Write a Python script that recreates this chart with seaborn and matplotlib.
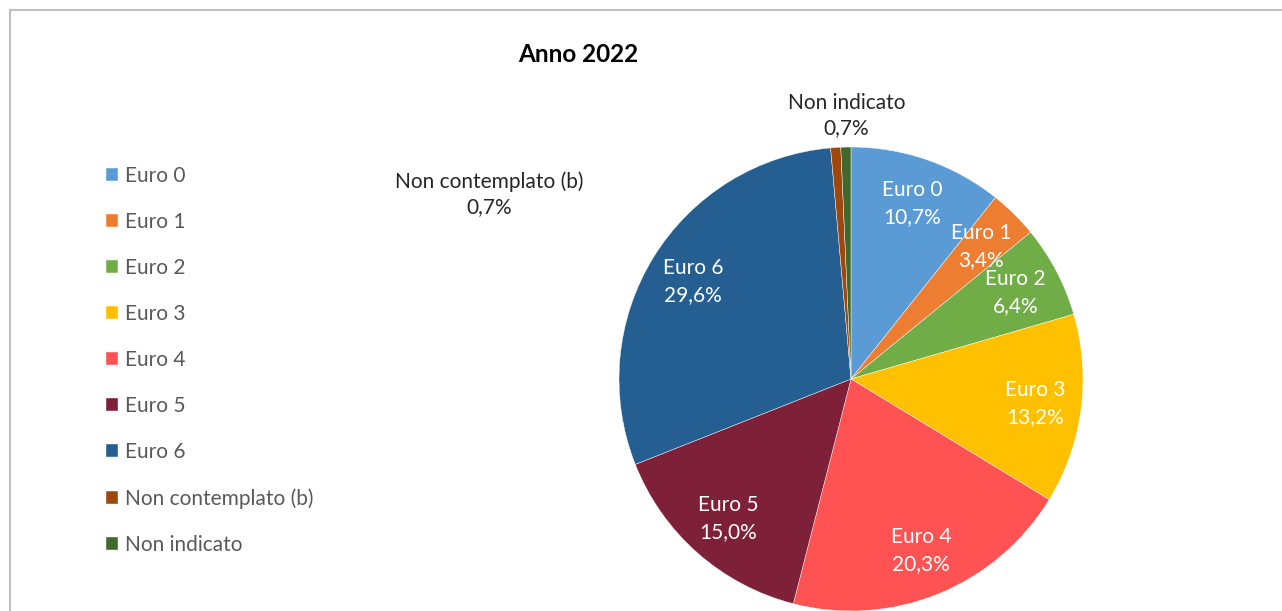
import matplotlib
matplotlib.use("Agg")
import matplotlib.pyplot as plt
import numpy as np
import seaborn as sns
from matplotlib.patches import Rectangle

# DATI
categorie = ["Euro 0", "Euro 1", "Euro 2", "Euro 3", "Euro 4", "Euro 5",
             "Euro 6", "Non contemplato (b)", "Non indicato"]
quote = [10.7, 3.4, 6.4, 13.2, 20.3, 15.0, 29.6, 0.7, 0.7]
colori = ["#5B9BD5", "#ED7D31", "#70AD47", "#FFC000", "#FF5252",
          "#7F2039", "#255E91", "#9E480E", "#43682B"]
titolo = "Anno 2022"

sns.set_theme(style="white")
plt.rcParams['font.family'] = ['Lato', 'DejaVu Sans']

fig = plt.figure(figsize=(12.82, 6.11), dpi=100)
fig.set_facecolor('white')

# cornice del grafico (tagliata come nell'originale)
fig.add_artist(Rectangle((10 / 1282, -0.05), 1.2, (611 - 10) / 611 + 0.05,
                         transform=fig.transFigure, fill=False,
                         edgecolor="#BFBFBF", linewidth=1.5))

ax = fig.add_axes([0.6638 - 0.181, 0.0, 0.362, 0.7594])
palette = sns.color_palette(colori)
wedges, _ = ax.pie(quote, colors=palette, startangle=90, counterclock=False,
                   radius=1.0, wedgeprops=dict(edgecolor="white", linewidth=0.3))
ax.set_xlim(-1, 1)
ax.set_ylim(-1, 1)
ax.set_aspect('equal')
ax.axis('off')

def fmt(v):
    return f"{v:.1f}".replace(".", ",") + "%"

# etichette interne
for w, cat, v in zip(wedges[:7], categorie[:7], quote[:7]):
    ang = np.deg2rad((w.theta1 + w.theta2) / 2)
    r = 0.8
    ax.text(r * np.cos(ang), r * np.sin(ang), f"{cat}\n{fmt(v)}",
            ha='center', va='center', color='white', fontsize=15,
            linespacing=1.45)

# etichette esterne spostate a mano
ax.text(-1.56, 0.797, f"{categorie[7]}\n{fmt(quote[7])}", ha='center',
        va='center', color='#262626', fontsize=15, linespacing=1.3,
        clip_on=False)
ax.text(-0.02, 1.137, f"{categorie[8]}\n{fmt(quote[8])}", ha='center',
        va='center', color='#262626', fontsize=15, linespacing=1.3,
        clip_on=False)

fig.text(578 / 1282, 1 - 55 / 611, titolo, ha='center', va='center',
         fontsize=17.5, fontweight='bold', color='black')

fig.legend(wedges, categorie, loc='upper left',
           bbox_to_anchor=(87 / 1282, 1 - 147 / 611), frameon=False,
           fontsize=15, labelcolor='#595959', handlelength=0.58,
           handleheight=0.58, handletextpad=0.34, labelspacing=1.25)

fig.savefig("out.png", dpi=100, facecolor='white')
